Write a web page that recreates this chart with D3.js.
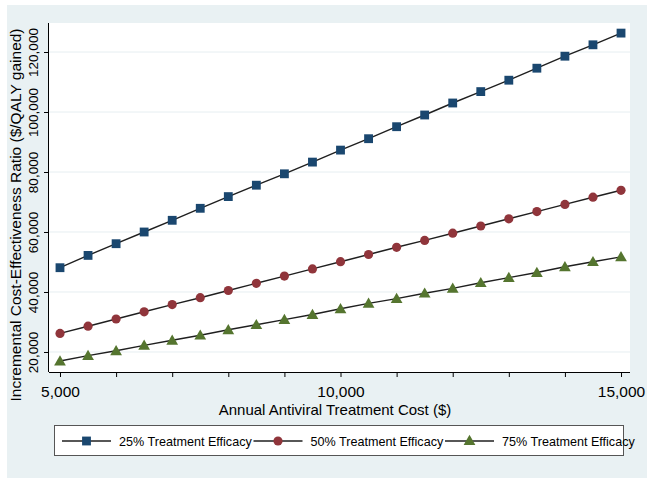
<!DOCTYPE html>
<html>
<head>
<meta charset="utf-8">
<script src="https://cdn.jsdelivr.net/npm/d3@7"></script>
<style>
  html, body { margin: 0; padding: 0; background: #ffffff; }
  svg { display: block; font-family: "Liberation Sans", Arial, Helvetica, sans-serif; }
</style>
</head>
<body>
<svg id="chart" width="653" height="485"></svg>
<script>
// ---- Data ----
const costs = [5000, 5500, 6000, 6500, 7000, 7500, 8000, 8500, 9000, 9500, 10000,
               10500, 11000, 11500, 12000, 12500, 13000, 13500, 14000, 14500, 15000];
const efficacy25 = [48100, 52200, 56100, 60000, 63900, 67900, 71800, 75600, 79400, 83300, 87300,
                    91100, 95100, 99000, 103000, 106800, 110600, 114600, 118600, 122400, 126300];
const efficacy50 = [26200, 28600, 31000, 33400, 35800, 38100, 40500, 42900, 45300, 47700, 50100,
                    52500, 54900, 57200, 59600, 62000, 64400, 66800, 69200, 71600, 73900];
const efficacy75 = [17000, 18800, 20400, 22200, 23900, 25600, 27400, 29100, 30800, 32500, 34400,
                    36200, 37800, 39600, 41200, 43100, 44800, 46500, 48400, 50100, 51700];
const seriesNames = ["25% Treatment Efficacy", "50% Treatment Efficacy", "75% Treatment Efficacy"];
const xTicks = [5000, 6000, 7000, 8000, 9000, 10000, 11000, 12000, 13000, 14000, 15000];
const xTickLabels = [5000, 10000, 15000];
const yTicks = [20000, 40000, 60000, 80000, 100000, 120000];
const xTitle = "Annual Antiviral Treatment Cost ($)";
const yTitle = "Incremental Cost-Effectiveness Ratio ($/QALY gained)";

// ---- Styling ----
const colors = ["#1a476f", "#90353b", "#55752f"];
const symbols = [d3.symbolSquare, d3.symbolCircle, d3.symbolTriangle];
const symSizes = [78, 66, 60];
const bg = "#e9f1f3";

const svg = d3.select("#chart");
const plot = { left: 49, right: 630, top: 23, bottom: 372 };

// graph region background
svg.append("rect").attr("x", 7).attr("y", 5).attr("width", 640).attr("height", 473).attr("fill", bg);
// plot region
svg.append("rect").attr("x", plot.left).attr("y", plot.top)
  .attr("width", plot.right - plot.left).attr("height", plot.bottom - plot.top).attr("fill", "#ffffff");

const x = d3.scaleLinear().domain([4804, 15160]).range([plot.left, plot.right]);
const y = d3.scaleLinear().domain([13333, 129667]).range([plot.bottom, plot.top]);

// gridlines
svg.append("g").selectAll("line").data(yTicks).join("line")
  .attr("x1", plot.left).attr("x2", plot.right)
  .attr("y1", d => y(d)).attr("y2", d => y(d))
  .attr("stroke", "#e6eef1").attr("stroke-width", 1);

const fmt = d3.format(",");

// X axis
const xAxis = d3.axisBottom(x).tickValues(xTicks).tickSize(5).tickSizeOuter(0)
  .tickFormat(d => xTickLabels.includes(d) ? fmt(d) : "");
const gx = svg.append("g").attr("transform", `translate(0,${plot.bottom})`).call(xAxis);
gx.select(".domain").attr("stroke", "#000").attr("stroke-width", 1)
  .attr("d", `M${plot.left},0.5H${plot.right}`);
gx.selectAll(".tick line").attr("stroke", "#000");
gx.selectAll(".tick text").attr("fill", "#000").attr("font-size", 15.5).attr("dy", null).attr("y", 25);

// Y axis
const yAxis = d3.axisLeft(y).tickValues(yTicks).tickSize(5).tickSizeOuter(0).tickFormat(fmt);
const gy = svg.append("g").attr("transform", `translate(${plot.left},0)`).call(yAxis);
gy.select(".domain").attr("stroke", "#000").attr("stroke-width", 1)
  .attr("d", `M-0.5,${plot.top}V${plot.bottom}`);
gy.selectAll(".tick line").attr("stroke", "#000");
gy.selectAll(".tick text")
  .attr("fill", "#000").attr("font-size", 13.5)
  .attr("x", null).attr("dy", null)
  .attr("text-anchor", "middle")
  .attr("transform", "translate(-11,0) rotate(-90)");

// Titles
svg.append("text").attr("x", 335).attr("y", 415)
  .attr("text-anchor", "middle").attr("font-size", 15).attr("fill", "#000").text(xTitle);
svg.append("text").attr("transform", "translate(20.5,215) rotate(-90)")
  .attr("text-anchor", "middle").attr("font-size", 15.5).attr("fill", "#000").text(yTitle);

// Series
const allSeries = [efficacy25, efficacy50, efficacy75];
const line = d3.line().x((d, i) => x(costs[i])).y(d => y(d));
allSeries.forEach((vals, si) => {
  const g = svg.append("g");
  g.append("path").datum(vals).attr("d", line)
    .attr("fill", "none").attr("stroke", "#1f1f1f").attr("stroke-width", 1.4);
  g.selectAll("path.m").data(vals).join("path").attr("class", "m")
    .attr("transform", (d, i) => `translate(${x(costs[i])},${y(d) + (si === 2 ? 1 : 0)})`)
    .attr("d", d3.symbol().type(symbols[si]).size(symSizes[si]))
    .attr("fill", colors[si]);
});

// Legend
const lg = svg.append("g");
lg.append("rect").attr("x", 54.5).attr("y", 425.5).attr("width", 569).attr("height", 30)
  .attr("fill", "#fff").attr("stroke", "#555").attr("stroke-width", 1);
seriesNames.forEach((name, i) => {
  const x0 = 62 + i * 191.5;
  const cy = 441;
  lg.append("line").attr("x1", x0).attr("x2", x0 + 49).attr("y1", cy).attr("y2", cy)
    .attr("stroke", "#1f1f1f").attr("stroke-width", 1.4);
  lg.append("path").attr("transform", `translate(${x0 + 24.5},${cy + (i === 2 ? 0.5 : 0)})`)
    .attr("d", d3.symbol().type(symbols[i]).size(symSizes[i])).attr("fill", colors[i]);
  lg.append("text").attr("x", x0 + 57).attr("y", cy + 4.5).attr("font-size", 12.6)
    .attr("fill", "#000").text(name);
});
</script>
</body>
</html>
